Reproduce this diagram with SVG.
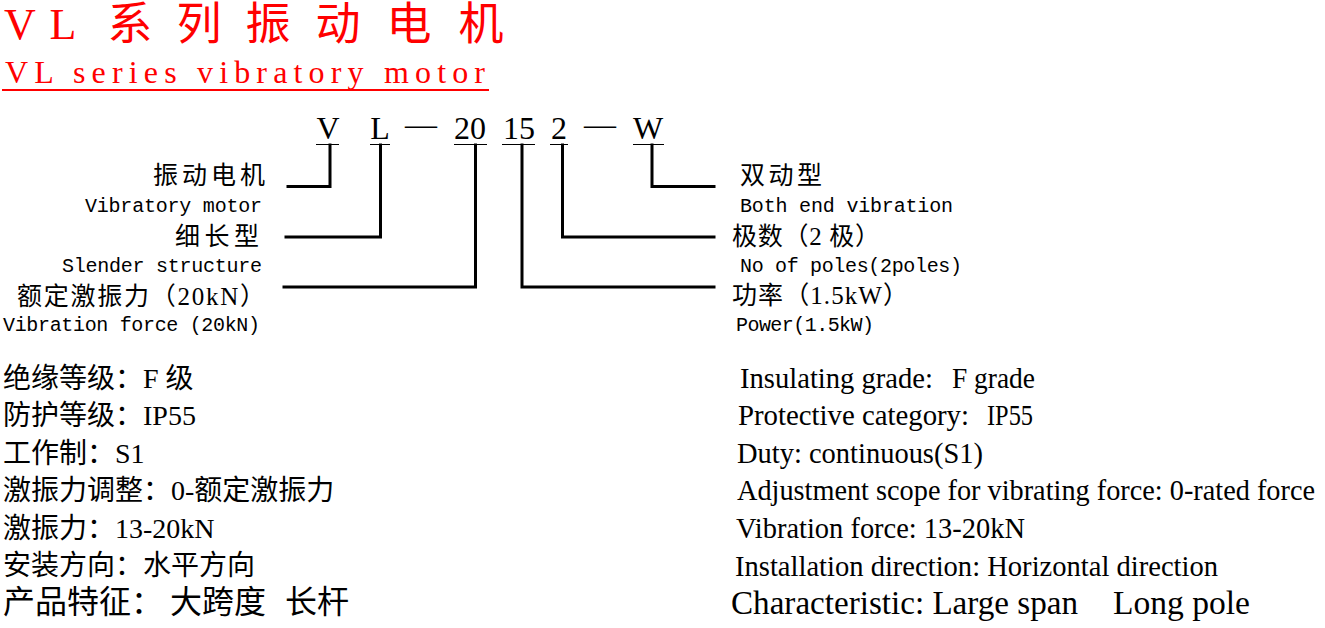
<svg xmlns="http://www.w3.org/2000/svg" width="1325" height="628" viewBox="0 0 1325 628">
<style>
.t{font-family:"Liberation Serif","Noto Sans CJK SC",serif;fill:#000}
.red{fill:#ff0000}
.m{font-family:"Liberation Mono","Noto Sans CJK SC",monospace;font-size:20px;fill:#000}
.c{font-size:25px}
.sp{font-size:28px}
.en{font-size:30px}
.thin{stroke:#000;stroke-width:1.2;fill:none}
.conn{stroke:#000;stroke-width:3;fill:none;stroke-linejoin:miter;stroke-linecap:square}
</style>
<rect width="1325" height="628" fill="#fff"/>
<g id="title">
<text class="t red" y="39" font-size="44" text-anchor="middle"><tspan x="20">V</tspan><tspan x="63">L</tspan><tspan x="130" y="40" font-size="45">系</tspan><tspan x="199" font-size="45">列</tspan><tspan x="268" font-size="45">振</tspan><tspan x="338" font-size="45">动</tspan><tspan x="409" font-size="45">电</tspan><tspan x="481" font-size="45">机</tspan></text>
<text class="t red" x="5" y="83" font-size="32" textLength="480" lengthAdjust="spacing">VL series vibratory motor</text>
<line x1="2" y1="90" x2="489" y2="90" stroke="#ff0000" stroke-width="2"/>
</g>
<g id="code">
<text class="t" y="139" font-size="32" text-anchor="middle"><tspan x="328">V</tspan><tspan x="380">L</tspan><tspan x="421" y="135">—</tspan><tspan x="470" y="139">20</tspan><tspan x="519">15</tspan><tspan x="559">2</tspan><tspan x="600" y="135">—</tspan><tspan x="648" y="139">W</tspan></text>
<path class="thin" d="M316,144.5H339M370,144.5H390M454,144.5H487M502,144.5H535M550,144.5H568M633,144.5H664"/>
</g>
<g id="connectors">
<path class="conn" d="M288,186.5H330V145"/>
<path class="conn" d="M286,237H380.5V145"/>
<path class="conn" d="M284,287H475.5V145"/>
<path class="conn" d="M714,287H522V145"/>
<path class="conn" d="M714,237H562.5V145"/>
<path class="conn" d="M714,186.5H652V145"/>
</g>
<g id="node-motor">
<text class="t c" x="265" y="184" text-anchor="end" textLength="112">振动电机</text>
<text class="m" x="262" y="212" text-anchor="end" textLength="177">Vibratory motor</text>
</g>
<g id="node-slender">
<text class="t c" x="259" y="245" text-anchor="end" textLength="84">细长型</text>
<text class="m" x="262" y="272" text-anchor="end" textLength="200">Slender structure</text>
</g>
<g id="node-force">
<text class="t c" x="17" y="305" textLength="248">额定激振力（20kN）</text>
<text class="m" x="3" y="331" textLength="257">Vibration force (20kN)</text>
</g>
<g id="node-both">
<text class="t c" x="740" y="184" textLength="82">双动型</text>
<text class="m" x="740" y="212" textLength="213">Both end vibration</text>
</g>
<g id="node-poles">
<text class="t c" x="732" y="245" textLength="148">极数（2 极）</text>
<text class="m" x="740" y="272" textLength="222">No of poles(2poles)</text>
</g>
<g id="node-power">
<text class="t c" x="732" y="304" textLength="176">功率（1.5kW）</text>
<text class="m" x="736" y="331" textLength="138">Power(1.5kW)</text>
</g>
<g id="specs-cn">
<text class="t sp" x="3" y="388">绝缘等级：F 级</text>
<text class="t sp" x="3" y="425">防护等级：IP55</text>
<text class="t sp" x="3" y="463">工作制：S1</text>
<text class="t sp" x="3" y="500">激振力调整：0-额定激振力</text>
<text class="t sp" x="3" y="538">激振力：13-20kN</text>
<text class="t sp" x="3" y="575">安装方向：水平方向</text>
<text class="t" y="613" font-size="32"><tspan x="3">产品特征：</tspan><tspan x="170">大跨度</tspan><tspan x="285">长杆</tspan></text>
</g>
<g id="specs-en">
<text class="t en" x="740" y="388" textLength="193" lengthAdjust="spacingAndGlyphs">Insulating grade:</text>
<text class="t en" x="952" y="388" textLength="83" lengthAdjust="spacingAndGlyphs">F grade</text>
<text class="t en" x="738" y="425" textLength="231" lengthAdjust="spacingAndGlyphs">Protective category:</text>
<text class="t en" x="987" y="425" textLength="46" lengthAdjust="spacingAndGlyphs">IP55</text>
<text class="t en" x="737" y="463" textLength="246" lengthAdjust="spacingAndGlyphs">Duty: continuous(S1)</text>
<text class="t" x="737" y="500" font-size="28.4" textLength="578" lengthAdjust="spacingAndGlyphs">Adjustment scope for vibrating force: 0-rated force</text>
<text class="t en" x="736" y="538" textLength="289" lengthAdjust="spacingAndGlyphs">Vibration force: 13-20kN</text>
<text class="t en" x="735" y="576" textLength="483" lengthAdjust="spacingAndGlyphs">Installation direction: Horizontal direction</text>
<text class="t" x="731" y="614" font-size="33" textLength="347" lengthAdjust="spacingAndGlyphs">Characteristic: Large span</text>
<text class="t" x="1113" y="614" font-size="33" textLength="137" lengthAdjust="spacingAndGlyphs">Long pole</text>
</g>
</svg>
